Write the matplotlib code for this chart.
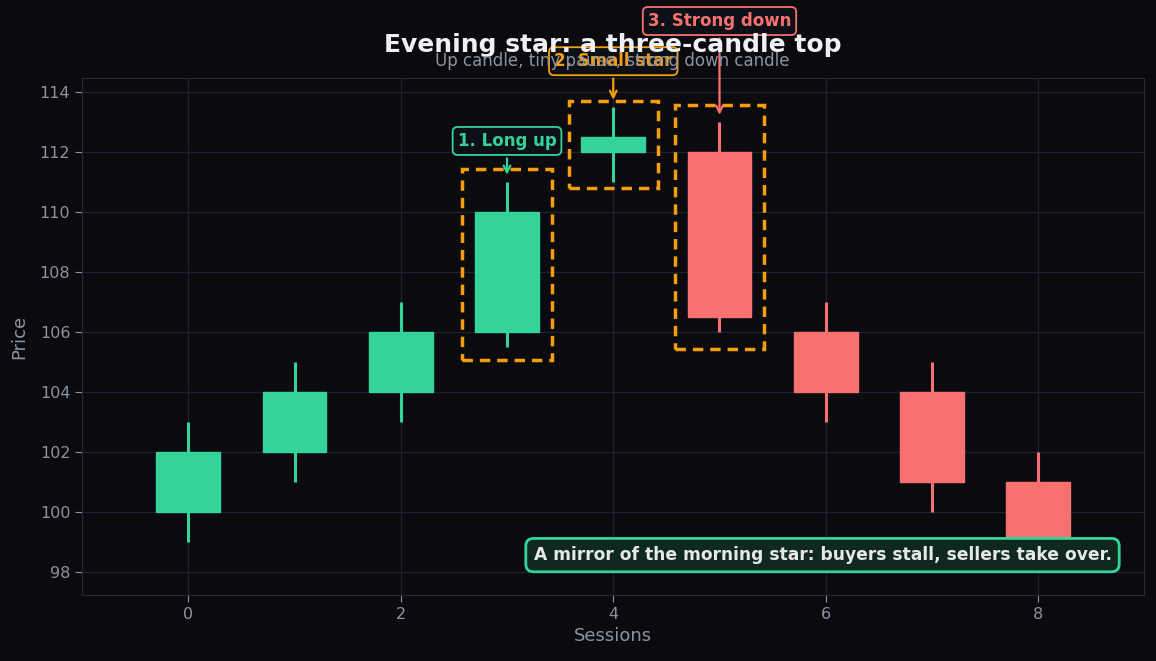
import matplotlib
matplotlib.use("Agg")
import matplotlib.pyplot as plt
from matplotlib.patches import Rectangle

# Candle data (session index, open, close, low, high)
sessions = [0, 1, 2, 3, 4, 5, 6, 7, 8]
opens = [100, 102, 104, 106, 112, 112, 106, 104, 101]
closes = [102, 104, 106, 110, 112.5, 106.5, 104, 101, 98.5]
lows = [99, 101, 103, 105.5, 111, 106, 103, 100, 98]
highs = [103, 105, 107, 111, 113.5, 113, 107, 105, 102]

# Pattern callouts
pattern_idx = [3, 4, 5]
pattern_labels = ["1. Long up", "2. Small star", "3. Strong down"]
label_y = [112.37, 115.03, 116.37]

UP = "#34d399"
DOWN = "#f87171"
ORANGE = "#f59e0b"
BG = "#0b0b0f"
GRID = "#1b2230"
MUTED = "#8b93a1"

fig, ax = plt.subplots(figsize=(11.56, 6.61), dpi=100)
fig.patch.set_facecolor(BG)
ax.set_facecolor(BG)
fig.subplots_adjust(left=0.071, right=0.99, top=0.882, bottom=0.1)

width = 0.6
for x, o, c, lo, hi in zip(sessions, opens, closes, lows, highs):
    col = UP if c >= o else DOWN
    ax.vlines(x, lo, hi, color=col, lw=2.2, zorder=2)
    ax.bar(x, abs(c - o), width=width, bottom=min(o, c), color=col,
           edgecolor=col, lw=1, zorder=3)

# dashed highlight boxes + labels
label_cols = [UP, ORANGE, DOWN]
for i, lab, ly, col in zip(pattern_idx, pattern_labels, label_y, label_cols):
    pad = 0.08 * (highs[i] - lows[i])
    ax.add_patch(Rectangle((i - 0.42, lows[i] - pad), 0.84, highs[i] - lows[i] + 2 * pad,
                           fill=False, ec=ORANGE, lw=2.5, ls=(0, (3, 2)), zorder=4))
    ax.annotate(lab, xy=(i, highs[i] + 0.15), xytext=(i, ly),
                ha="center", va="center", fontsize=12, fontweight="bold", color=col,
                bbox=dict(boxstyle="round,pad=0.3", fc="#0d1117", ec=col, lw=1.3),
                arrowprops=dict(arrowstyle="->", color=col, lw=1.6),
                zorder=6, annotation_clip=False)

ax.text(0.969, 0.077, "A mirror of the morning star: buyers stall, sellers take over.",
        transform=ax.transAxes, ha="right", va="center", fontsize=12.3,
        fontweight="bold", color="#e5e7eb", zorder=7,
        bbox=dict(boxstyle="round,pad=0.45", fc="#10291f", ec=UP, lw=2))

ax.set_xlim(-1, 9)
ax.set_ylim(97.23, 114.47)
ax.set_xticks([0, 2, 4, 6, 8])
ax.set_yticks(range(98, 115, 2))
ax.grid(True, color=GRID, lw=0.9)
ax.set_axisbelow(True)
for s in ax.spines.values():
    s.set_color("#222b38")
ax.tick_params(colors=MUTED, labelsize=11.5, length=5)
ax.set_xlabel("Sessions", color=MUTED, fontsize=13)
ax.set_ylabel("Price", color=MUTED, fontsize=13, labelpad=8)

# titles drawn at figure level, on top of the callouts (as in the original)
fig.text(0.530, 0.932, "Evening star: a three-candle top", color="#eef0f4", fontsize=18,
         fontweight="bold", ha="center", va="center")
fig.text(0.530, 0.908, "Up candle, tiny pause, strong down candle",
         ha="center", va="center", fontsize=12, color=MUTED)

fig.savefig("out.png", dpi=100, facecolor=BG)
